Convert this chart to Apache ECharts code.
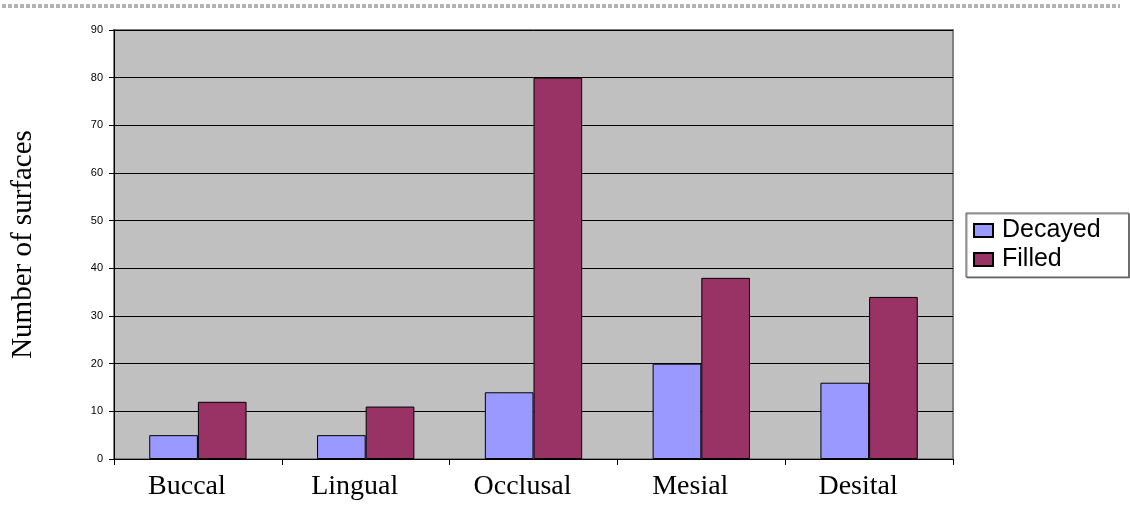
<!DOCTYPE html>
<html>
<head>
<meta charset="utf-8">
<script src="https://cdn.jsdelivr.net/npm/echarts@6/dist/echarts.min.js"></script>
<style>
  html, body { margin: 0; padding: 0; background: #ffffff; }
  #chart { width: 1130px; height: 506px; }
</style>
</head>
<body>
<div id="chart"></div>
<script>
// Tooth surfaces: decayed vs filled counts
const categories = ['Buccal', 'Lingual', 'Occlusal', 'Mesial', 'Desital'];
const decayed = [5, 5, 14, 20, 16];
const filled = [12, 11, 80, 38, 34];
const seriesNames = ['Decayed', 'Filled'];

const chart = echarts.init(document.getElementById('chart'), null, { renderer: 'canvas' });

const serif = '"Liberation Serif", "Times New Roman", serif';
const sans = '"Liberation Sans", Arial, sans-serif';

chart.setOption({
  animation: false,
  backgroundColor: '#ffffff',
  graphic: [
    {
      type: 'line',
      shape: { x1: 2, y1: 5, x2: 1120, y2: 5 },
      style: { stroke: '#666', lineWidth: 1, lineDash: [4, 2] }
    },
    {
      type: 'line',
      shape: { x1: 2, y1: 7, x2: 1120, y2: 7 },
      style: { stroke: '#666', lineWidth: 1, lineDash: [4, 2] }
    }
  ],
  grid: {
    left: 114, top: 30, right: 177, bottom: 47,
    show: true,
    backgroundColor: '#C0C0C0',
    borderColor: '#808080',
    borderWidth: 2
  },
  legend: {
    orient: 'vertical',
    left: 966, top: 213,
    padding: [5, 28, 5, 7],
    itemGap: 4,
    itemWidth: 19, itemHeight: 13,
    icon: 'rect',
    borderColor: '#555',
    borderWidth: 1,
    backgroundColor: '#ffffff',
    shadowColor: 'rgba(0,0,0,0.4)', shadowOffsetX: 1, shadowOffsetY: 1, shadowBlur: 0,
    textStyle: { fontFamily: sans, fontSize: 25, color: '#000', padding: [0, 0, 0, 4] },
    data: seriesNames
  },
  xAxis: {
    type: 'category',
    data: categories,
    boundaryGap: true,
    axisLine: { show: true, lineStyle: { color: '#000', width: 1 } },
    axisTick: { show: true, alignWithLabel: false, length: 6, lineStyle: { color: '#000' } },
    axisLabel: { fontFamily: serif, fontSize: 28, color: '#000', margin: 14, padding: [0, 22, 0, 0] },
    splitLine: { show: false }
  },
  yAxis: {
    type: 'value',
    min: 0, max: 90, interval: 10,
    name: 'Number of surfaces',
    nameLocation: 'middle',
    nameGap: 76,
    nameRotate: 90,
    nameTextStyle: { fontFamily: serif, fontSize: 29, color: '#000' },
    axisLine: { show: true, lineStyle: { color: '#000', width: 1 } },
    axisTick: { show: true, length: 5, lineStyle: { color: '#000' } },
    axisLabel: { fontFamily: sans, fontSize: 11, color: '#000', margin: 11 },
    splitLine: { show: true, lineStyle: { color: '#000', width: 1 } }
  },
  series: [
    {
      name: seriesNames[0],
      type: 'bar',
      data: decayed,
      barGap: '0%',
      barCategoryGap: '42%',
      itemStyle: { color: '#9999FF', borderColor: '#000', borderWidth: 1 }
    },
    {
      name: seriesNames[1],
      type: 'bar',
      data: filled,
      itemStyle: { color: '#993366', borderColor: '#000', borderWidth: 1 }
    }
  ]
});
</script>
</body>
</html>
